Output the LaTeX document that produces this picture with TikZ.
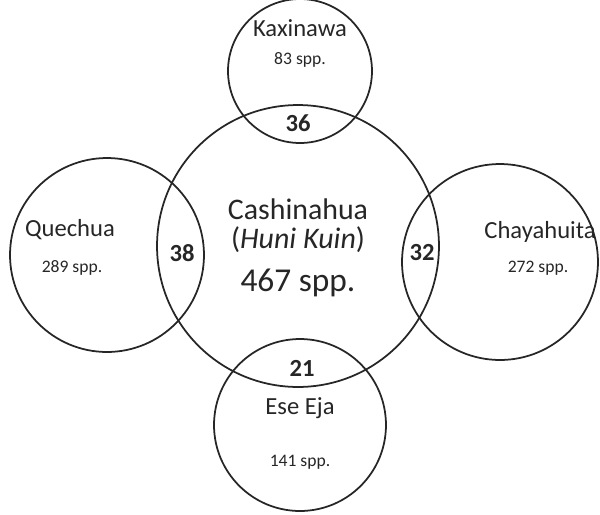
\documentclass[tikz,border=0pt]{standalone}
\usepackage{fontspec}
\setmainfont{Carlito}
\begin{document}
\begin{tikzpicture}[x=0.02cm, y=-0.02cm,
  ring/.style={draw=black!85, circle, line width=1pt, inner sep=0pt},
  groupname/.style={text=black!85, font=\fontsize{14}{16}\selectfont},
  sppcount/.style={text=black!85, font=\fontsize{10}{12}\selectfont},
  shared/.style={text=black!85, font=\bfseries\fontsize{14}{16}\selectfont}]
\useasboundingbox (0,0) rectangle (600,515);
% circles
\node[ring, minimum size=5.64cm] (cash) at (298,246) {};
\node[ring, minimum size=2.88cm] (kaxi) at (300,71) {};
\node[ring, minimum size=3.88cm] (quec) at (107,255) {};
\node[ring, minimum size=3.92cm] (chay) at (500,262) {};
\node[ring, minimum size=3.44cm] (esee) at (300,425) {};
% labels
\node[groupname, font=\fontsize{17}{19}\selectfont] (cashname) at (298,209) {Cashinahua};
\node[groupname, font=\fontsize{17}{19}\selectfont] (cashsub) at (298,240) {(\textit{Huni Kuin})};
\node[groupname, font=\fontsize{19}{21}\selectfont] (cashcount) at (298,283) {467 spp.};
\node[groupname] (kaxiname) at (300,28) {Kaxinawa};
\node[sppcount] (kaxicount) at (300,60) {83 spp.};
\node[groupname] (quecname) at (70,230) {Quechua};
\node[sppcount] (queccount) at (72,268) {289 spp.};
\node[groupname] (chayname) at (540,232) {Chayahuita};
\node[sppcount] (chaycount) at (538,268) {272 spp.};
\node[groupname] (eseename) at (300,408) {Ese Eja};
\node[sppcount] (eseecount) at (300,462) {141 spp.};
% overlaps
\node[shared] (kc) at (298,123) {36};
\node[shared] (qc) at (182,253) {38};
\node[shared] (cc) at (422,253) {32};
\node[shared] (ec) at (302,368) {21};
\end{tikzpicture}
\end{document}
